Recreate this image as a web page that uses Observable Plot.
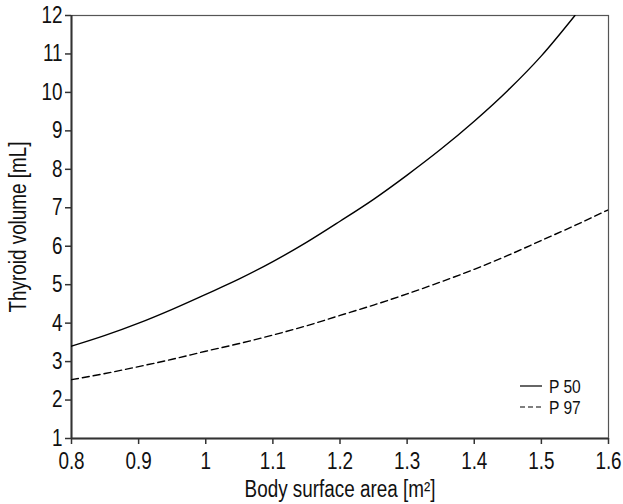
<!DOCTYPE html>
<html>
<head>
<meta charset="utf-8">
<script src="https://cdn.jsdelivr.net/npm/d3@7"></script>
<script src="https://cdn.jsdelivr.net/npm/@observablehq/plot@0.6"></script>
<style>
  html, body { margin: 0; padding: 0; background: #fff; }
  #wrap { position: relative; width: 623px; height: 504px; }
  #legend { position: absolute; left: 0; top: 0; pointer-events: none; }
</style>
</head>
<body>
<div id="wrap"></div>
<script>
// Body surface area [m²]
const bsa = [0.8, 0.85, 0.9, 0.95, 1.0, 1.05, 1.1, 1.15, 1.2, 1.25, 1.3, 1.35, 1.4, 1.45, 1.5, 1.55, 1.6];
// Thyroid volume [mL]
const p50 = [3.4, 3.68, 4.0, 4.36, 4.75, 5.15, 5.6, 6.1, 6.65, 7.22, 7.85, 8.52, 9.25, 10.05, 10.95, 12.0, null];
const p97 = [2.53, 2.69, 2.87, 3.06, 3.27, 3.47, 3.69, 3.93, 4.2, 4.47, 4.76, 5.07, 5.4, 5.76, 6.15, 6.54, 6.95];
const xTicks = [0.8, 0.9, 1.0, 1.1, 1.2, 1.3, 1.4, 1.5, 1.6];
const yTicks = [1, 2, 3, 4, 5, 6, 7, 8, 9, 10, 11, 12];
const seriesNames = ["P 50", "P 97"];

const rows50 = bsa.map((x, i) => ({x, y: p50[i]})).filter(d => d.y != null);
const rows97 = bsa.map((x, i) => ({x, y: p97[i]})).filter(d => d.y != null);

const font = "'Liberation Sans', Arial, sans-serif";
const axisColor = "#333";
const narrow = 0.82;

const chart = Plot.plot({
  width: 623,
  height: 504,
  marginLeft: 71,
  marginRight: 15,
  marginTop: 15,
  marginBottom: 66,
  style: {fontFamily: font, fontSize: "23px", color: "#111", background: "#fff"},
  x: {domain: [0.8, 1.6]},
  y: {domain: [1, 12]},
  marks: [
    Plot.frame({stroke: "#555", strokeWidth: 1.2}),
    Plot.axisX({ticks: xTicks, tickFormat: d => String(d), tickSize: 6, tickPadding: 8, stroke: axisColor, strokeWidth: 1.5,
      label: "Body surface area [m²]", labelAnchor: "center", labelArrow: "none", labelOffset: 58, fontSize: 23}),
    Plot.axisY({ticks: yTicks, tickFormat: d => String(d), tickSize: 6, tickPadding: 3, stroke: axisColor, strokeWidth: 1.5,
      label: "Thyroid volume [mL]", labelAnchor: "center", labelArrow: "none", labelOffset: 62, fontSize: 23}),
    Plot.ruleX([0.8], {stroke: axisColor, strokeWidth: 2}),
    Plot.ruleY([1], {stroke: axisColor, strokeWidth: 2}),
    Plot.line(rows50, {x: "x", y: "y", curve: "monotone-x", stroke: "#000", strokeWidth: 1.4, clip: true}),
    Plot.line(rows97, {x: "x", y: "y", curve: "monotone-x", stroke: "#000", strokeWidth: 1.4, strokeDasharray: "7,4", clip: true})
  ]
});
document.getElementById("wrap").appendChild(chart);

// legend overlay
const ns = "http://www.w3.org/2000/svg";
const leg = document.createElementNS(ns, "svg");
leg.setAttribute("id", "legend");
leg.setAttribute("width", 623);
leg.setAttribute("height", 504);
const entries = [{name: seriesNames[0], dash: null}, {name: seriesNames[1], dash: "5,3"}];
entries.forEach((e, i) => {
  const y = 386 + i * 21;
  const l = document.createElementNS(ns, "line");
  l.setAttribute("x1", 520); l.setAttribute("x2", 542);
  l.setAttribute("y1", y); l.setAttribute("y2", y);
  l.setAttribute("stroke", "#000"); l.setAttribute("stroke-width", 1.2);
  if (e.dash) l.setAttribute("stroke-dasharray", e.dash);
  leg.appendChild(l);
  const t = document.createElementNS(ns, "text");
  t.setAttribute("x", 549); t.setAttribute("y", y);
  t.setAttribute("dy", "0.35em");
  t.setAttribute("font-family", font);
  t.setAttribute("font-size", 19);
  t.setAttribute("fill", "#111");
  t.textContent = e.name;
  leg.appendChild(t);
});
document.getElementById("wrap").appendChild(leg);

// condense all text horizontally (narrow sans look) using textLength
function condense(root) {
  root.querySelectorAll("text").forEach(t => {
    if (t.querySelector("tspan")) return;
    const len = t.getComputedTextLength();
    if (len > 0) {
      t.setAttribute("textLength", (len * narrow).toFixed(2));
      t.setAttribute("lengthAdjust", "spacingAndGlyphs");
    }
  });
}
condense(chart);
condense(leg);
</script>
</body>
</html>
